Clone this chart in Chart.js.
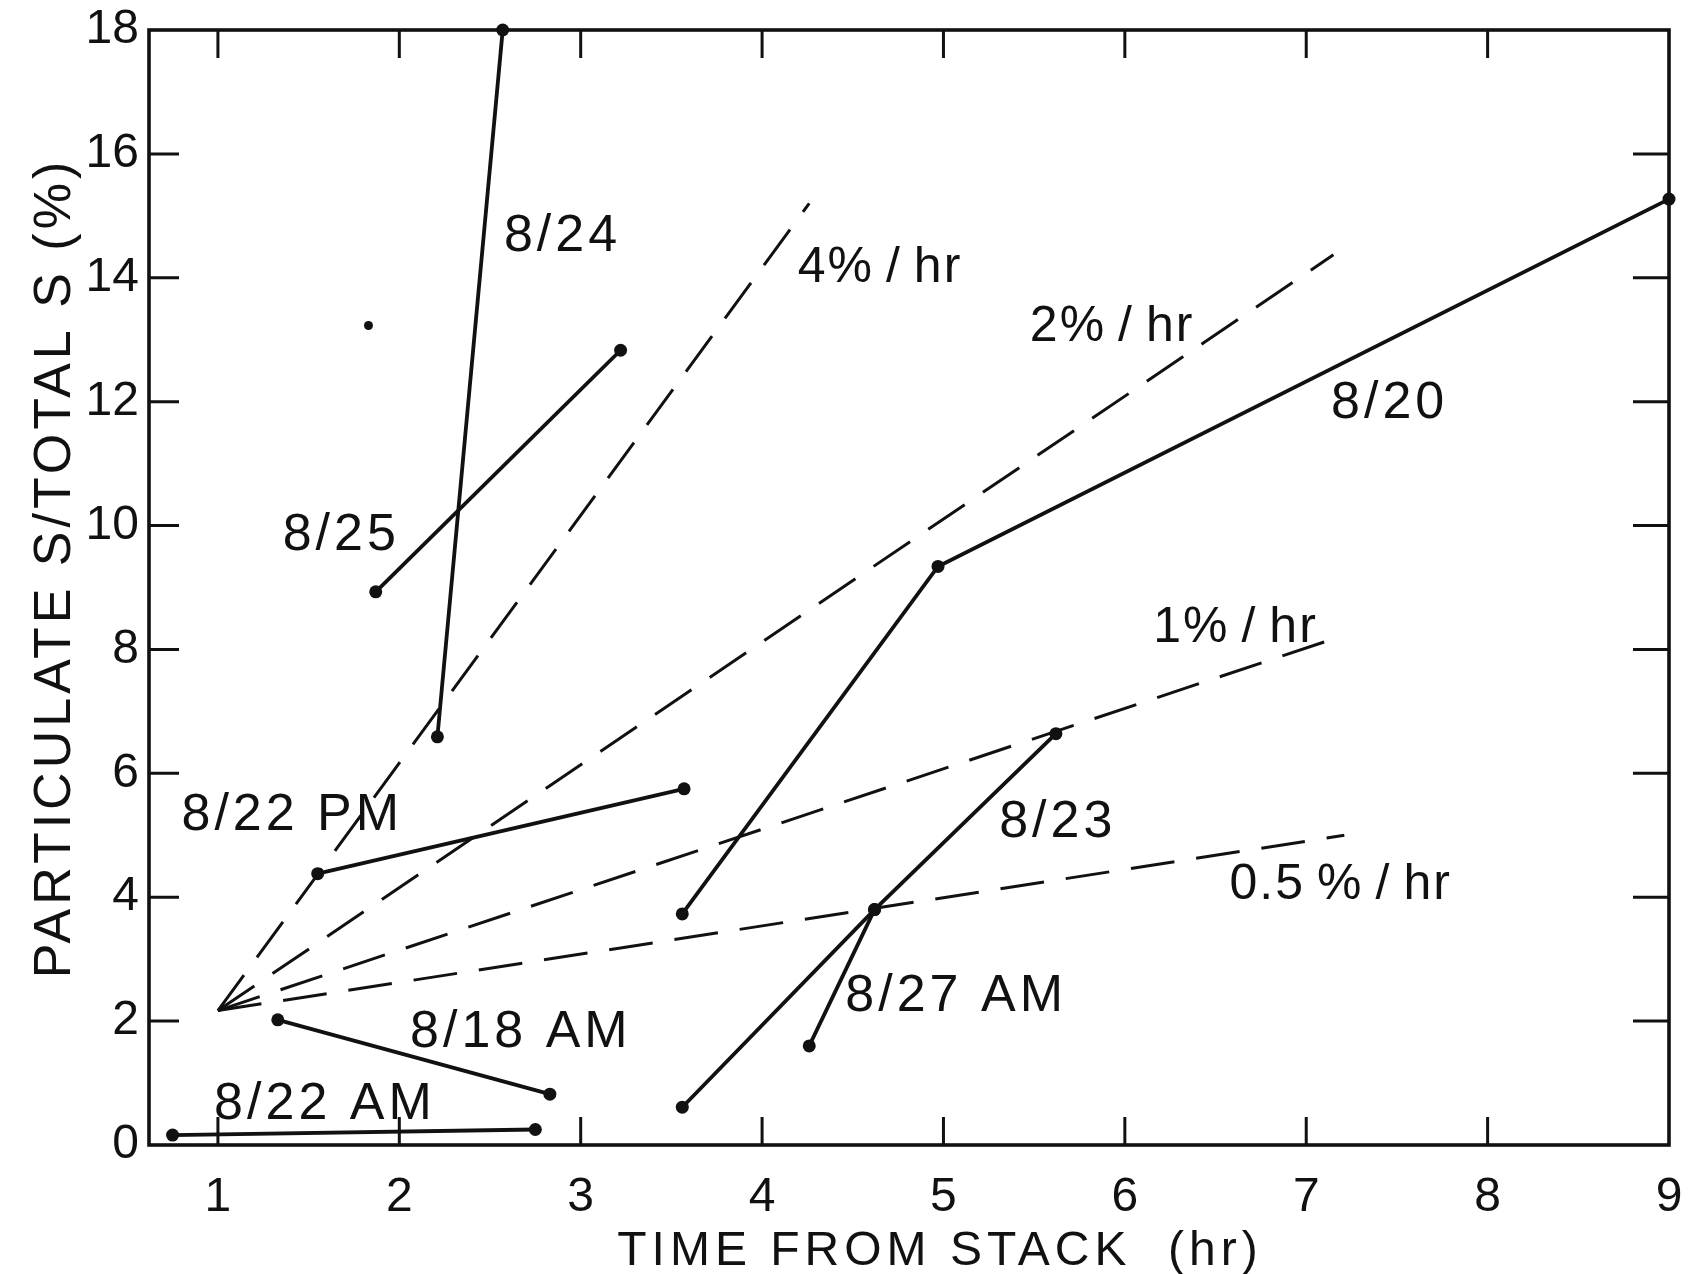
<!DOCTYPE html>
<html>
<head>
<meta charset="utf-8">
<script src="https://cdn.jsdelivr.net/npm/chart.js@4.4.0/dist/chart.umd.min.js"></script>
<style>
  html, body { margin: 0; padding: 0; background: #fff; }
  #wrap { width: 1702px; height: 1274px; }
</style>
</head>
<body>
<div id="wrap"><canvas id="chart" width="1702" height="1274"></canvas></div>
<script>
// Tick values
const xTicks = [1, 2, 3, 4, 5, 6, 7, 8, 9];
const yTicks = [0, 2, 4, 6, 8, 10, 12, 14, 16, 18];

// Measured runs: [time from stack (hr), particulate S / total S (%)]
const run0820 = [[3.56, 3.73], [4.97, 9.34], [9.0, 15.27]];
const run0823 = [[3.56, 0.61], [4.62, 3.80], [5.62, 6.64]];
const run0827am = [[4.26, 1.60], [4.62, 3.80]];
const run0824 = [[2.21, 6.59], [2.57, 18.0]];
const run0825 = [[1.87, 8.93], [3.22, 12.83]];
const run0822pm = [[1.55, 4.38], [3.57, 5.75]];
const run0818am = [[1.33, 2.02], [2.83, 0.82]];
const run0822am = [[0.75, 0.16], [2.75, 0.25]];
const strayDot = [[1.83, 13.23]];

// Reference rate lines (dashed)
const rate4 = [[1.0, 2.17], [4.26, 15.2]];
const rate2 = [[1.0, 2.17], [7.15, 14.37]];
const rate1 = [[1.0, 2.17], [7.18, 8.20]];
const rate05 = [[1.0, 2.17], [7.21, 5.00]];

// Text placed in the plot, [text, x, y] in data units
const runNotes = [
    ['8/24', 2.90, 14.67],
    ['8/20', 7.46, 11.97],
    ['8/25', 1.68, 9.83],
    ['8/22 PM', 1.41, 5.31],
    ['8/23', 5.63, 5.21],
    ['8/27 AM', 5.07, 2.40],
    ['8/18 AM', 2.67, 1.81],
    ['8/22 AM', 1.59, 0.65]
];
const rateNotes = [
    ['4%\u2009/\u2009hr', 4.65, 14.15],
    ['2%\u2009/\u2009hr', 5.93, 13.20],
    ['1%\u2009/\u2009hr', 6.61, 8.34],
    ['0.5\u2009%\u2009/\u2009hr', 7.19, 4.19]
];

const ink = '#111';
const family = "'Liberation Sans', Arial, sans-serif";

function pts(arr) {
    return arr.map(([x, y]) => ({ x, y }));
}

function runSet(arr) {
    return {
        data: pts(arr),
        showLine: true,
        borderColor: ink,
        borderWidth: 3.8,
        pointRadius: 6.5,
        pointBackgroundColor: ink,
        pointBorderWidth: 0,
        clip: false
    };
}

function rateSet(arr) {
    return {
        data: pts(arr),
        showLine: true,
        borderColor: ink,
        borderWidth: 3,
        borderDash: [44, 22],
        pointRadius: 0,
        clip: false
    };
}

// Frame, inward ticks, in-plot labels and axis titles
const sketchPlugin = {
    id: 'sketch',
    afterDraw(chart) {
        const { ctx, chartArea: a, scales: { x, y } } = chart;
        ctx.save();
        ctx.strokeStyle = ink;
        ctx.fillStyle = ink;
        ctx.lineWidth = 3.6;
        ctx.strokeRect(a.left, a.top, a.right - a.left, a.bottom - a.top);

        ctx.lineWidth = 3;
        ctx.beginPath();
        xTicks.forEach(v => {
            const px = x.getPixelForValue(v);
            if (px >= a.right - 2) return;
            ctx.moveTo(px, a.bottom);
            ctx.lineTo(px, a.bottom - 28);
            ctx.moveTo(px, a.top);
            ctx.lineTo(px, a.top + 28);
        });
        yTicks.forEach(v => {
            const py = y.getPixelForValue(v);
            if (py <= a.top + 2 || py >= a.bottom - 2) return;
            ctx.moveTo(a.left, py);
            ctx.lineTo(a.left + 30, py);
            ctx.moveTo(a.right, py);
            ctx.lineTo(a.right - 36, py);
        });
        ctx.stroke();

        ctx.textAlign = 'center';
        ctx.textBaseline = 'middle';
        ctx.font = '52px ' + family;
        ctx.letterSpacing = '4px';
        runNotes.forEach(([t, vx, vy]) => {
            ctx.fillText(t, x.getPixelForValue(vx), y.getPixelForValue(vy));
        });
        ctx.font = '50px ' + family;
        ctx.letterSpacing = '2px';
        rateNotes.forEach(([t, vx, vy]) => {
            ctx.fillText(t, x.getPixelForValue(vx), y.getPixelForValue(vy));
        });

        ctx.font = '48px ' + family;
        ctx.letterSpacing = '5px';
        ctx.textBaseline = 'alphabetic';
        ctx.fillText('TIME FROM STACK  (hr)', 940, 1265);

        ctx.font = '52px ' + family;
        ctx.translate(70, 568);
        ctx.rotate(-Math.PI / 2);
        ctx.letterSpacing = '4px';
        ctx.fillText('PARTICULATE S/TOTAL S (%)', 0, 0);
        ctx.restore();
    }
};

new Chart(document.getElementById('chart'), {
    type: 'scatter',
    data: {
        datasets: [
            rateSet(rate4), rateSet(rate2), rateSet(rate1), rateSet(rate05),
            runSet(run0820), runSet(run0823), runSet(run0827am), runSet(run0824),
            runSet(run0825), runSet(run0822pm), runSet(run0818am), runSet(run0822am),
            { data: pts(strayDot), pointRadius: 4.5, pointBackgroundColor: ink, pointBorderWidth: 0 }
        ]
    },
    options: {
        responsive: false,
        animation: false,
        devicePixelRatio: 1,
        layout: { padding: { left: 0, right: 33, top: 30, bottom: 0 } },
        plugins: { legend: { display: false }, tooltip: { enabled: false } },
        scales: {
            x: {
                type: 'linear',
                min: 0.62,
                max: 9,
                afterBuildTicks: s => { s.ticks = xTicks.map(v => ({ value: v })); },
                afterFit: s => { s.height = 129; s.paddingLeft = 0; s.paddingRight = 0; },
                grid: { display: false, drawTicks: false },
                border: { display: false },
                ticks: { color: ink, font: { family, size: 48 }, padding: 24, maxRotation: 0, autoSkip: false }
            },
            y: {
                type: 'linear',
                min: 0,
                max: 18,
                afterBuildTicks: s => { s.ticks = yTicks.map(v => ({ value: v })); },
                afterFit: s => { s.width = 149; s.paddingTop = 0; s.paddingBottom = 0; },
                grid: { display: false, drawTicks: false },
                border: { display: false },
                ticks: { color: ink, font: { family, size: 48 }, padding: 10, autoSkip: false }
            }
        }
    },
    plugins: [sketchPlugin]
});
</script>
</body>
</html>
